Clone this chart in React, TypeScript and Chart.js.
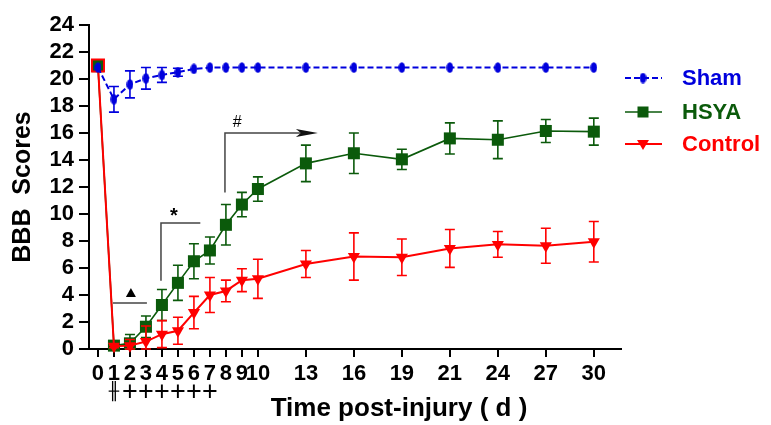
import React, { useEffect, useRef } from 'react';
import { Chart, registerables } from 'chart.js';
Chart.register(...registerables);

const days = [0, 1, 2, 3, 4, 5, 6, 7, 8, 9, 10, 13, 16, 19, 21, 24, 27, 30];
const xTickLabels = days.map(String);
const yTicks = [0, 2, 4, 6, 8, 10, 12, 14, 16, 18, 20, 22, 24];

const sham = [20.85, 18.5, 19.6, 20.05, 20.3, 20.5, 20.75, 20.85, 20.85, 20.85, 20.85, 20.85, 20.85, 20.85, 20.85, 20.85, 20.85, 20.85];
const shamErr = [0, 0.95, 1.0, 0.8, 0.55, 0.3, 0, 0, 0, 0, 0, 0, 0, 0, 0, 0, 0, 0];
const hsya = [20.95, 0.25, 0.42, 1.65, 3.26, 4.9, 6.5, 7.3, 9.2, 10.7, 11.85, 13.75, 14.5, 14.05, 15.6, 15.5, 16.15, 16.1];
const hsyaErr = [0, 0.15, 0.65, 0.8, 1.15, 1.3, 1.3, 1.0, 1.5, 0.9, 0.9, 1.35, 1.5, 0.75, 1.15, 1.4, 0.85, 1.0];
const control = [21.0, 0.2, 0.25, 0.55, 1.1, 1.35, 2.7, 4.0, 4.3, 5.1, 5.2, 6.3, 6.85, 6.8, 7.45, 7.75, 7.65, 7.95];
const controlErr = [0, 0.1, 0.45, 1.15, 1.0, 1.0, 1.2, 1.3, 0.8, 0.85, 1.45, 1.0, 1.75, 1.35, 1.4, 0.95, 1.3, 1.5];

const seriesNames = ['Sham', 'HSYA', 'Control'];
const sigMarks = ['', '╫', '+', '+', '+', '+', '+', '+'];
const xTitle = 'Time post-injury ( d )';
const yTitle = 'BBB  Scores';

const BLUE = '#0000dd';
const GREEN = '#0b5a0b';
const RED = '#ff0000';
const FONT = '"Liberation Sans", Arial, sans-serif';

// compressed time axis: daily up to day 10, then evenly spaced
function dayPos(i: number) {
  return i <= 10 ? days[i] : 10 + 3 * (i - 10);
}

function makeEllipse(color: string) {
  const c = document.createElement('canvas');
  c.width = 7;
  c.height = 11;
  const g = c.getContext('2d')!;
  g.fillStyle = color;
  g.beginPath();
  g.ellipse(3.5, 5.5, 3.3, 5.3, 0, 0, Math.PI * 2);
  g.fill();
  return c;
}

const errorBars = {
  id: 'errorBars',
  beforeDatasetDraw(chart: any, args: any) {
    const ds = chart.data.datasets[args.index];
    const errs = ds.errors as number[] | undefined;
    if (!errs) return;
    const { ctx } = chart;
    const ys = chart.scales.y;
    ctx.save();
    ctx.strokeStyle = ds.borderColor;
    ctx.lineWidth = 1.6;
    ctx.setLineDash([]);
    args.meta.data.forEach((pt: any, i: number) => {
      const e = errs[i];
      if (!e) return;
      const v = ds.data[i].y;
      const top = ys.getPixelForValue(v + e);
      const bot = ys.getPixelForValue(Math.max(0, v - e));
      const x = pt.x;
      ctx.beginPath();
      ctx.moveTo(x, top);
      ctx.lineTo(x, bot);
      ctx.moveTo(x - 5, top);
      ctx.lineTo(x + 5, top);
      ctx.moveTo(x - 5, bot);
      ctx.lineTo(x + 5, bot);
      ctx.stroke();
    });
    ctx.restore();
  },
};

const annotations = {
  id: 'annotations',
  afterDatasetsDraw(chart: any) {
    const { ctx } = chart;
    const xs = chart.scales.x;
    const ys = chart.scales.y;
    const X = (v: number) => xs.getPixelForValue(v);
    const Y = (v: number) => ys.getPixelForValue(v);
    ctx.save();
    ctx.strokeStyle = '#444';
    ctx.fillStyle = '#000';
    ctx.lineWidth = 1.5;
    // triangle bracket
    ctx.beginPath();
    ctx.moveTo(X(0.94), Y(3.4));
    ctx.lineTo(X(3.06), Y(3.4));
    ctx.stroke();
    const tx = X(2.06), ty = Y(4.15);
    ctx.beginPath();
    ctx.moveTo(tx, ty - 5);
    ctx.lineTo(tx + 5, ty + 4);
    ctx.lineTo(tx - 5, ty + 4);
    ctx.closePath();
    ctx.fill();
    // star bracket
    ctx.beginPath();
    ctx.moveTo(X(3.94), Y(5.05));
    ctx.lineTo(X(3.94), Y(9.33));
    ctx.lineTo(X(6.4), Y(9.33));
    ctx.stroke();
    ctx.font = `bold 20px ${FONT}`;
    ctx.textAlign = 'center';
    ctx.textBaseline = 'middle';
    ctx.fillText('*', X(4.75), Y(9.85));
    // hash bracket with arrow
    const hx = X(7.94), hy = Y(16.0);
    const ax = X(13.75);
    ctx.beginPath();
    ctx.moveTo(hx, Y(11.6));
    ctx.lineTo(hx, hy);
    ctx.lineTo(ax - 6, hy);
    ctx.stroke();
    ctx.fillStyle = '#111';
    ctx.beginPath();
    ctx.moveTo(ax, hy);
    ctx.lineTo(ax - 22, hy - 4);
    ctx.lineTo(ax - 17, hy);
    ctx.lineTo(ax - 22, hy + 4);
    ctx.closePath();
    ctx.fill();
    ctx.fillStyle = '#000';
    ctx.font = `16px ${FONT}`;
    ctx.fillText('#', X(8.7), Y(16.8));
    ctx.restore();
  },
};

const texts = {
  id: 'texts',
  afterDraw(chart: any) {
    const { ctx } = chart;
    const xs = chart.scales.x;
    ctx.save();
    // significance marks under x tick labels
    ctx.fillStyle = '#000';
    ctx.textAlign = 'center';
    ctx.textBaseline = 'middle';
    sigMarks.forEach((m, i) => {
      if (!m) return;
      ctx.font = m === '+' ? `27px ${FONT}` : `17px "DejaVu Sans"`;
      ctx.fillText(m, xs.getPixelForValue(dayPos(i)), 393);
    });
    // x title
    ctx.font = `bold 26px ${FONT}`;
    ctx.fillText(xTitle, 399, 409);
    // legend
    const ds = chart.data.datasets;
    const rows = [78, 112, 144];
    const lx0 = 625, lx1 = 662, mx = 643;
    ds.forEach((d: any, i: number) => {
      const y = rows[i];
      ctx.strokeStyle = d.borderColor;
      ctx.lineWidth = d.borderWidth;
      ctx.setLineDash(d.borderDash || []);
      ctx.beginPath();
      ctx.moveTo(lx0, y);
      ctx.lineTo(lx1, y);
      ctx.stroke();
      ctx.setLineDash([]);
      ctx.fillStyle = d.borderColor;
      if (i === 0) {
        const img = d.pointStyle as HTMLCanvasElement;
        ctx.drawImage(img, mx - img.width / 2, y - img.height / 2);
      } else if (i === 1) {
        ctx.fillRect(mx - 5.5, y - 5.5, 11, 11);
      } else {
        ctx.beginPath();
        ctx.moveTo(mx - 6, y - 4);
        ctx.lineTo(mx + 6, y - 4);
        ctx.lineTo(mx, y + 6);
        ctx.closePath();
        ctx.fill();
      }
      ctx.font = `bold 22px ${FONT}`;
      ctx.textAlign = 'left';
      ctx.textBaseline = 'middle';
      ctx.fillText(d.label, 682, y + 1);
    });
    ctx.restore();
  },
};

export default function App() {
  const ref = useRef<HTMLCanvasElement | null>(null);
  useEffect(() => {
    document.body.style.margin = '0';
    const canvas = ref.current!;
    const toXY = (arr: number[]) => arr.map((v, i) => ({ x: dayPos(i), y: v }));
    const tickFont = { family: FONT, size: 22, weight: 'bold' as const };
    const controlStyles = control.map((_, i) => (i === 0 ? 'rect' : 'triangle'));
    const controlRadius = control.map((_, i) => (i === 0 ? 8.5 : 7));
    const controlFill = control.map((_, i) => (i === 0 ? GREEN : RED));
    const chart = new Chart(canvas, {
      type: 'line',
      data: {
        datasets: [
          {
            label: seriesNames[0],
            data: toXY(sham),
            errors: shamErr,
            borderColor: BLUE,
            backgroundColor: BLUE,
            borderWidth: 2,
            borderDash: [6, 3],
            pointStyle: makeEllipse(BLUE),
            pointRadius: 5,
            clip: false,
            order: 1,
          } as any,
          {
            label: seriesNames[1],
            data: toXY(hsya),
            errors: hsyaErr,
            borderColor: GREEN,
            backgroundColor: GREEN,
            borderWidth: 1.6,
            pointStyle: 'rect',
            pointRadius: 8.5,
            pointBorderWidth: 0,
            clip: false,
            order: 3,
          } as any,
          {
            label: seriesNames[2],
            data: toXY(control),
            errors: controlErr,
            borderColor: RED,
            backgroundColor: controlFill,
            pointBackgroundColor: controlFill,
            pointBorderColor: RED,
            borderWidth: 2,
            pointStyle: controlStyles,
            pointRotation: control.map((_, i) => (i === 0 ? 0 : 180)),
            pointRadius: controlRadius,
            pointBorderWidth: control.map((_, i) => (i === 0 ? 2 : 0)),
            clip: false,
            order: 2,
          } as any,
        ],
      },
      options: {
        animation: false,
        responsive: false,
        maintainAspectRatio: false,
        layout: { padding: { left: 0, right: 150, top: 25, bottom: 0 } },
        plugins: { legend: { display: false }, tooltip: { enabled: false } },
        scales: {
          x: {
            type: 'linear',
            min: -0.56,
            max: 32.7,
            afterBuildTicks: (s: any) => {
              s.ticks = days.map((_, i) => ({ value: dayPos(i) }));
            },
            afterFit: (s: any) => {
              s.height = 76;
            },
            ticks: {
              autoSkip: false,
              maxRotation: 0,
              minRotation: 0,
              padding: 4,
              color: '#000',
              font: tickFont,
              callback: (v: any) => {
                const i = days.findIndex((_, j) => dayPos(j) === v);
                return i >= 0 ? xTickLabels[i] : '';
              },
            },
            grid: { drawOnChartArea: false, drawTicks: true, tickLength: 8, color: '#000', lineWidth: 2 },
            border: { color: '#000', width: 2 },
          },
          y: {
            min: 0,
            max: 24,
            afterBuildTicks: (s: any) => {
              s.ticks = yTicks.map((v) => ({ value: v }));
            },
            afterFit: (s: any) => {
              s.width = 89;
            },
            ticks: { autoSkip: false, padding: 5, color: '#000', font: tickFont },
            grid: { drawOnChartArea: false, drawTicks: true, tickLength: 10, color: '#000', lineWidth: 2 },
            border: { color: '#000', width: 2 },
            title: {
              display: true,
              text: yTitle,
              color: '#000',
              font: { family: FONT, size: 25, weight: 'bold' },
              padding: { top: 8, bottom: 0 },
            },
          },
        },
      },
      plugins: [errorBars, annotations, texts],
    } as any);
    return () => chart.destroy();
  }, []);
  return <canvas ref={ref} width={771} height={425} style={{ display: 'block' }} />;
}
